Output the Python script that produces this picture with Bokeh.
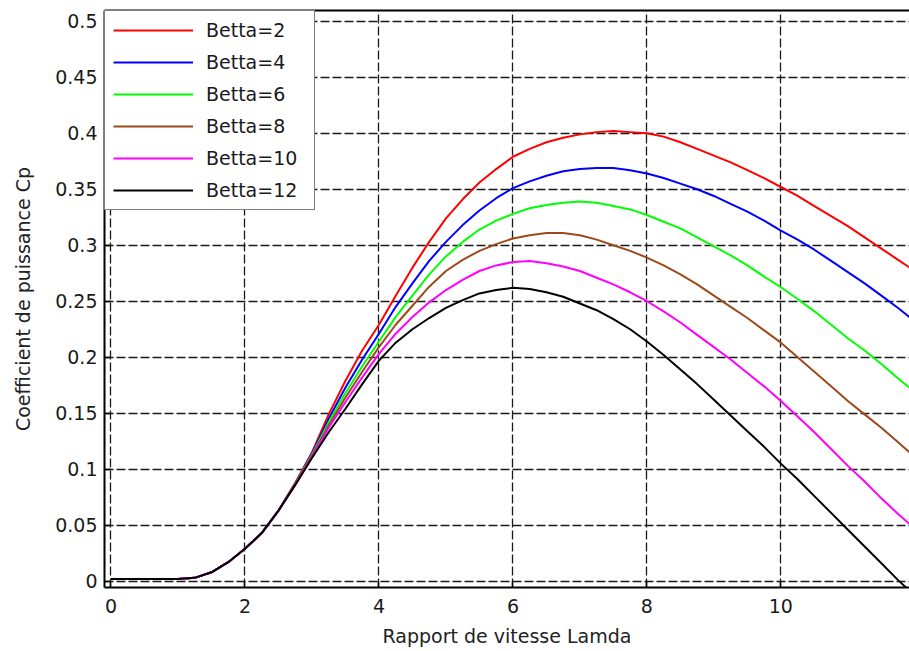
from bokeh.plotting import figure
from bokeh.models import FixedTicker, Legend, LegendItem, LinearAxis, Range1d
from bokeh.embed import file_html
from bokeh.resources import INLINE

# ---- data ----
lam = [0, 0.5, 1.0, 1.25, 1.5, 1.75, 2.0, 2.25, 2.5, 2.75,
       3.0, 3.25, 3.5, 3.75, 4.0, 4.25,
       4.5, 4.75, 5.0, 5.25, 5.5, 5.75, 6.0, 6.25, 6.5, 6.75,
       7.0, 7.25, 7.5, 7.75, 8.0, 8.25, 8.5, 8.75, 9.0, 9.25,
       9.5, 9.75, 10.0, 10.25, 10.5, 10.75, 11.0, 11.25, 11.5, 11.75,
       12.0]

cp_b2 = [0.002, 0.002, 0.002, 0.003, 0.008, 0.017, 0.029, 0.043, 0.063, 0.088,
         0.115, 0.149, 0.179, 0.206, 0.229, 0.255,
         0.280, 0.303, 0.324, 0.341, 0.356, 0.368, 0.379, 0.386, 0.392, 0.396,
         0.399, 0.401, 0.402, 0.401, 0.400, 0.397, 0.392, 0.386, 0.380, 0.374,
         0.367, 0.360, 0.352, 0.344, 0.335, 0.326, 0.317, 0.307, 0.297, 0.287,
         0.277]
cp_b4 = [0.002, 0.002, 0.002, 0.003, 0.008, 0.017, 0.029, 0.043, 0.063, 0.087,
         0.114, 0.145, 0.173, 0.198, 0.221, 0.245,
         0.266, 0.286, 0.303, 0.318, 0.331, 0.342, 0.351, 0.357, 0.362, 0.366,
         0.368, 0.369, 0.369, 0.367, 0.364, 0.360, 0.355, 0.350, 0.344, 0.337,
         0.330, 0.322, 0.313, 0.305, 0.296, 0.286, 0.276, 0.266, 0.255, 0.244,
         0.232]
cp_b6 = [0.002, 0.002, 0.002, 0.003, 0.008, 0.017, 0.029, 0.043, 0.063, 0.087,
         0.113, 0.142, 0.168, 0.192, 0.214, 0.236,
         0.255, 0.274, 0.290, 0.303, 0.314, 0.322, 0.328, 0.333, 0.336, 0.338,
         0.339, 0.338, 0.335, 0.332, 0.327, 0.321, 0.315, 0.307, 0.299, 0.291,
         0.282, 0.272, 0.2625, 0.252, 0.241, 0.229, 0.217, 0.206, 0.194, 0.181,
         0.169]
cp_b8 = [0.002, 0.002, 0.002, 0.003, 0.008, 0.017, 0.029, 0.043, 0.063, 0.087,
         0.112, 0.139, 0.164, 0.187, 0.209, 0.229,
         0.246, 0.263, 0.277, 0.287, 0.295, 0.301, 0.306, 0.309, 0.311, 0.311,
         0.309, 0.305, 0.300, 0.295, 0.289, 0.282, 0.274, 0.265, 0.255, 0.245,
         0.235, 0.224, 0.213, 0.200, 0.187, 0.174, 0.161, 0.149, 0.137, 0.124,
         0.111]
cp_b10 = [0.002, 0.002, 0.002, 0.003, 0.008, 0.017, 0.029, 0.043, 0.063, 0.086,
          0.111, 0.137, 0.160, 0.182, 0.203, 0.221,
          0.236, 0.249, 0.260, 0.269, 0.277, 0.282, 0.285, 0.286, 0.284, 0.281,
          0.277, 0.271, 0.265, 0.258, 0.250, 0.241, 0.231, 0.220, 0.209, 0.198,
          0.186, 0.174, 0.161, 0.147, 0.133, 0.118, 0.103, 0.089, 0.074, 0.060,
          0.047]
cp_b12 = [0.002, 0.002, 0.002, 0.003, 0.008, 0.017, 0.029, 0.043, 0.063, 0.086,
          0.110, 0.133, 0.154, 0.176, 0.197, 0.213,
          0.225, 0.235, 0.244, 0.251, 0.257, 0.260, 0.262, 0.261, 0.258, 0.254,
          0.248, 0.242, 0.234, 0.225, 0.214, 0.202, 0.189, 0.176, 0.162, 0.148,
          0.134, 0.120, 0.105, 0.091, 0.076, 0.061, 0.046, 0.031, 0.016, 0.001,
          -0.013]

series_names = ["Betta=2", "Betta=4", "Betta=6", "Betta=8", "Betta=10", "Betta=12"]
series_values = [cp_b2, cp_b4, cp_b6, cp_b8, cp_b10, cp_b12]
series_colors = ["#ff0000", "#0000ff", "#00ff00", "#9c4a1c", "#ff00ff", "#000000"]

x_ticks = [0, 2, 4, 6, 8, 10]
x_tick_labels = ["0", "2", "4", "6", "8", "10"]
y_ticks = [0, 0.05, 0.1, 0.15, 0.2, 0.25, 0.3, 0.35, 0.4, 0.45, 0.5]
y_tick_labels = ["0", "0.05", "0.1", "0.15", "0.2", "0.25", "0.3", "0.35", "0.4", "0.45", "0.5"]

x_title = "Rapport de vitesse Lamda"
y_title = "Coefficient de puissance Cp"

FONT = "DejaVu Sans"
FS = "19px"

p = figure(width=909, height=651, output_backend="svg", toolbar_location=None,
           x_range=Range1d(-0.097, 11.92), y_range=Range1d(-0.0056, 0.5096),
           min_border_left=104, min_border_right=0, min_border_top=10, min_border_bottom=64)
p.outline_line_color = None
p.background_fill_color = "white"
p.border_fill_color = "white"

renderers = []
for vals, col in zip(series_values, series_colors):
    r = p.line(lam, vals, line_color=col, line_width=2)
    renderers.append(r)

# axes
for ax, ticks, labels in ((p.xaxis[0], x_ticks, x_tick_labels), (p.yaxis[0], y_ticks, y_tick_labels)):
    ax.ticker = FixedTicker(ticks=ticks)
    ax.major_label_overrides = dict(zip(ticks, labels))
    ax.axis_line_color = "black"
    ax.axis_line_width = 2
    ax.major_tick_in = 6
    ax.major_tick_out = 0
    ax.minor_tick_line_color = None
    ax.major_tick_line_color = "black"
    ax.major_tick_line_width = 1.5
    ax.major_label_text_font = FONT
    ax.major_label_text_font_size = FS
    ax.major_label_text_color = "#1a1a1a"
    ax.axis_label_text_font = FONT
    ax.axis_label_text_font_size = FS
    ax.axis_label_text_font_style = "normal"
    ax.axis_label_text_color = "#222222"

p.xaxis[0].axis_label = x_title
p.yaxis[0].axis_label = y_title
p.xaxis[0].major_label_standoff = 11
p.xaxis[0].axis_label_standoff = 9
p.yaxis[0].major_label_standoff = 7
p.yaxis[0].axis_label_standoff = 18

top = LinearAxis(ticker=FixedTicker(ticks=[]), axis_line_width=2, axis_line_color="black",
                 major_tick_in=0, major_tick_out=0, minor_tick_line_color=None,
                 major_label_standoff=0)
p.add_layout(top, "above")

# grid
for g in (p.xgrid[0], p.ygrid[0]):
    g.grid_line_color = "black"
    g.grid_line_width = 1.3
    g.grid_line_dash = "9 3"
    g.grid_line_alpha = 0.9
p.xgrid[0].ticker = FixedTicker(ticks=x_ticks)
p.ygrid[0].ticker = FixedTicker(ticks=y_ticks)

legend = Legend(items=[LegendItem(label=n, renderers=[r]) for n, r in zip(series_names, renderers)],
                location="top_left")
legend.margin = 0
legend.padding = 8
legend.spacing = 10
legend.glyph_width = 80
legend.glyph_height = 22
legend.label_height = 22
legend.label_width = 100
legend.label_standoff = 13
legend.label_text_font = FONT
legend.label_text_font_size = FS
legend.label_text_color = "#1a1a1a"
legend.border_line_color = "black"
legend.border_line_width = 1.5
legend.background_fill_color = "white"
legend.background_fill_alpha = 1.0
p.add_layout(legend)

open("out.html", "w").write(file_html(p, INLINE))
